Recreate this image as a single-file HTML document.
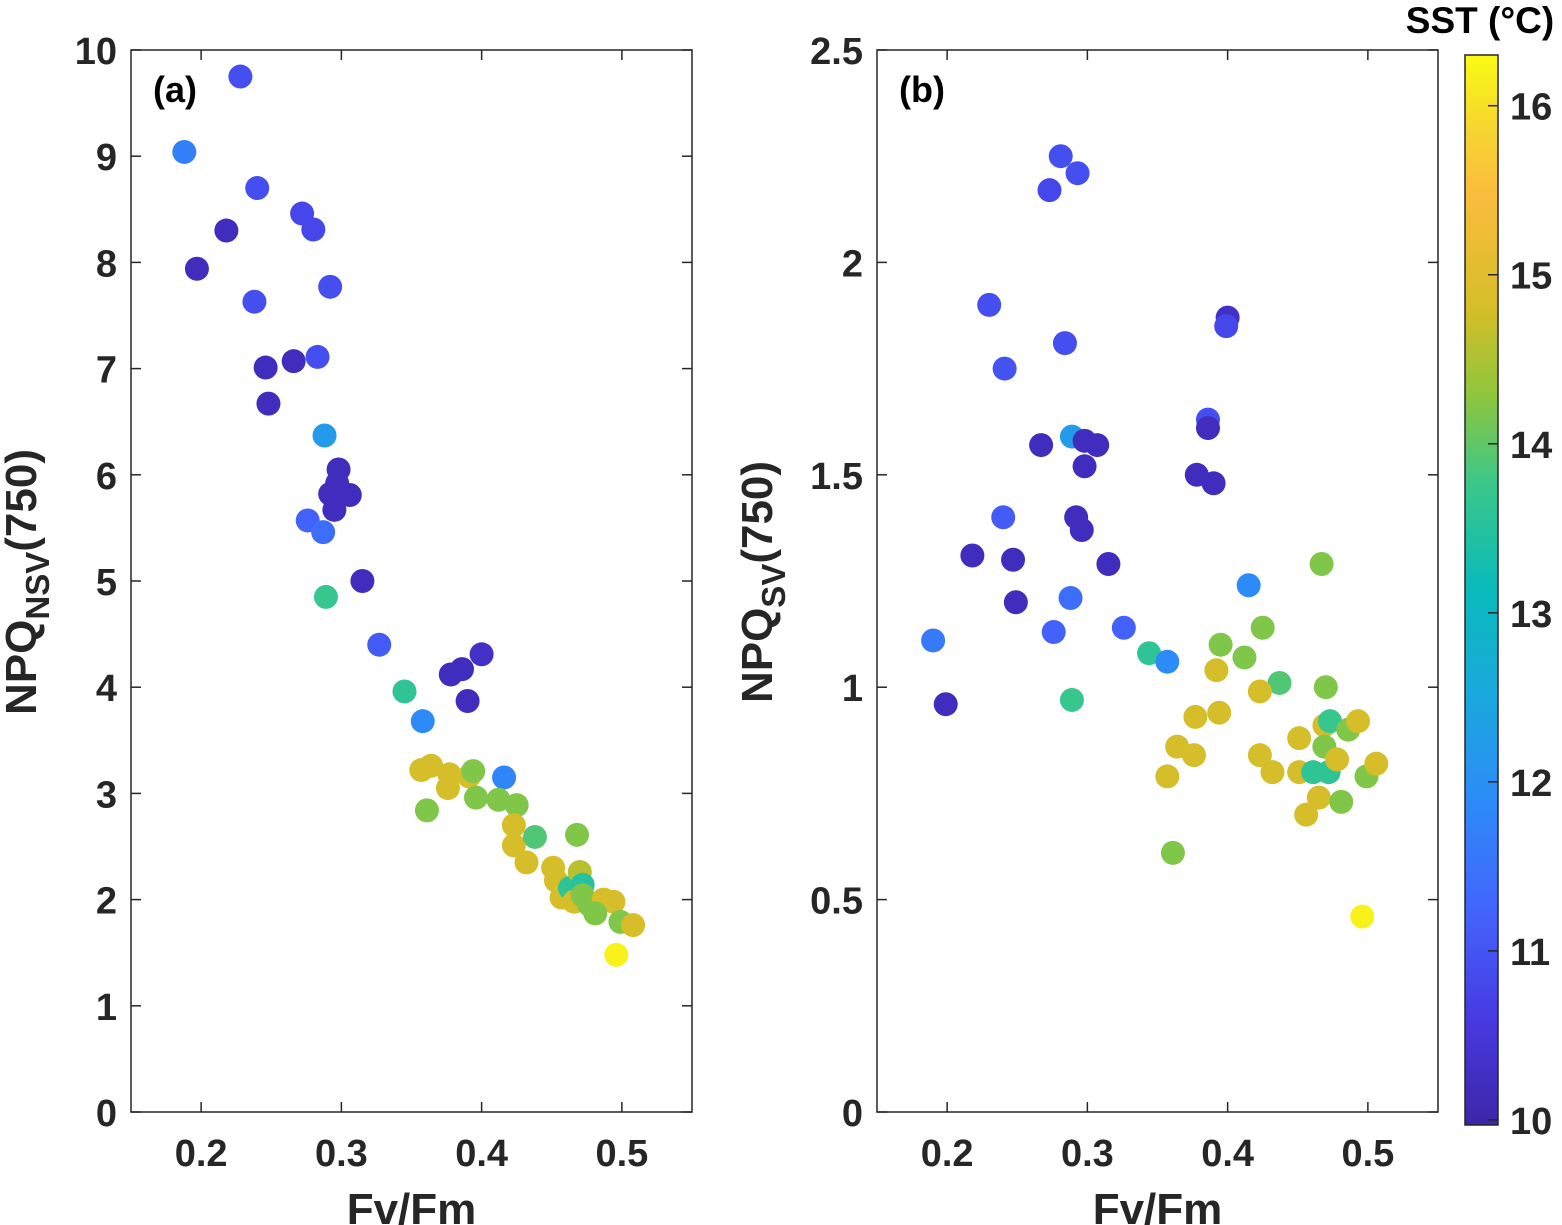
<!DOCTYPE html>
<html><head><meta charset="utf-8"><style>
html,body{margin:0;padding:0;background:#fff;}
svg{display:block;font-family:"Liberation Sans",Arial,sans-serif;font-weight:bold;}
</style></head><body>
<svg id="fig" width="1562" height="1225" viewBox="0 0 1562 1225" xmlns="http://www.w3.org/2000/svg"></svg>
<script>
// Panel (a) data
const aFv = [0.228,0.188,0.240,0.218,0.272,0.280,0.197,0.238,0.292,0.246,0.266,0.283,0.248,0.288,0.298,0.297,0.292,0.306,0.295,0.276,0.287,0.315,0.289,0.327,0.345,0.378,0.386,0.400,0.390,0.358,0.357,0.364,0.377,0.376,0.391,0.394,0.396,0.361,0.416,0.412,0.425,0.423,0.423,0.432,0.438,0.468,0.451,0.453,0.457,0.463,0.470,0.472,0.466,0.472,0.477,0.487,0.494,0.481,0.499,0.508,0.496];
const aNPQ = [9.75,9.04,8.70,8.30,8.46,8.31,7.94,7.63,7.77,7.01,7.07,7.11,6.67,6.37,6.05,5.92,5.82,5.81,5.67,5.57,5.46,5.00,4.85,4.40,3.96,4.12,4.17,4.31,3.87,3.68,3.22,3.26,3.18,3.05,3.16,3.21,2.96,2.84,3.15,2.94,2.89,2.70,2.51,2.35,2.59,2.61,2.30,2.18,2.02,2.11,2.26,2.14,1.98,2.04,1.95,2.00,1.98,1.87,1.79,1.76,1.48];
const aSST = [10.9,11.7,10.9,10.2,10.8,10.8,10.2,10.9,10.9,10.2,10.2,10.9,10.2,12.2,10.2,10.2,10.2,10.2,10.2,11.2,11.4,10.2,13.7,11.1,13.6,10.2,10.2,10.3,10.2,11.9,14.8,14.8,14.8,14.8,14.8,14.2,14.2,14.2,11.8,14.2,14.2,14.8,14.8,14.8,13.9,14.2,14.8,14.8,14.8,13.6,14.6,13.5,14.8,14.2,14.2,14.8,14.8,14.2,14.2,14.8,16.2];
// Panel (b) data
const bFv = [0.281,0.273,0.293,0.230,0.241,0.284,0.400,0.399,0.386,0.386,0.378,0.390,0.267,0.289,0.298,0.307,0.298,0.292,0.296,0.315,0.240,0.218,0.247,0.249,0.288,0.190,0.199,0.276,0.326,0.289,0.344,0.357,0.415,0.467,0.395,0.425,0.412,0.437,0.392,0.423,0.470,0.377,0.394,0.364,0.376,0.357,0.423,0.432,0.451,0.451,0.461,0.472,0.469,0.473,0.469,0.486,0.493,0.478,0.465,0.481,0.456,0.499,0.506,0.361,0.496];
const bNPQ = [2.25,2.17,2.21,1.90,1.75,1.81,1.87,1.85,1.63,1.61,1.50,1.48,1.57,1.59,1.58,1.57,1.52,1.40,1.37,1.29,1.40,1.31,1.30,1.20,1.21,1.11,0.96,1.13,1.14,0.97,1.08,1.06,1.24,1.29,1.10,1.14,1.07,1.01,1.04,0.99,1.00,0.93,0.94,0.86,0.84,0.79,0.84,0.80,0.88,0.80,0.80,0.80,0.91,0.92,0.86,0.90,0.92,0.83,0.74,0.73,0.70,0.79,0.82,0.61,0.46];
const bSST = [10.9,10.8,10.9,10.9,11.0,10.9,10.3,10.8,10.9,10.2,10.2,10.2,10.2,12.2,10.2,10.2,10.2,10.2,10.2,10.2,11.1,10.2,10.2,10.2,11.4,11.6,10.2,11.2,11.2,13.7,13.6,11.9,11.9,14.2,14.2,14.2,14.2,13.9,14.8,14.8,14.2,14.8,14.8,14.8,14.8,14.8,14.8,14.8,14.8,14.8,13.6,13.6,14.8,13.7,14.2,14.2,14.8,14.8,14.8,14.2,14.8,14.2,14.8,14.2,16.2];
const xTicks = [0.2,0.3,0.4,0.5];
const aYTicks = [0,1,2,3,4,5,6,7,8,9,10];
const bYTicks = [0,0.5,1,1.5,2,2.5];
const bYTickLabels = ["0","0.5","1","1.5","2","2.5"];
const cTicks = [10,11,12,13,14,15,16];

const NS="http://www.w3.org/2000/svg";
const svg=document.getElementById('fig');
function mk(tag,attrs,parent){const e=document.createElementNS(NS,tag);for(const k in attrs)e.setAttribute(k,attrs[k]);(parent||svg).appendChild(e);return e;}
const parulaStops=[[0,[62,38,168]],[0.1,[71,58,226]],[0.2,[67,100,252]],[0.3,[45,138,248]],[0.4,[27,168,222]],[0.5,[8,186,187]],[0.6,[60,199,137]],[0.68,[140,198,62]],[0.76,[212,190,40]],[0.87,[251,188,62]],[0.93,[246,212,48]],[1,[249,251,20]]];
const cMin=9.97,cMax=16.3;
function parula(v){let t=(v-cMin)/(cMax-cMin);t=Math.max(0,Math.min(1,t));for(let i=1;i<parulaStops.length;i++){if(t<=parulaStops[i][0]){const [t0,c0]=parulaStops[i-1],[t1,c1]=parulaStops[i];const f=(t-t0)/(t1-t0);return 'rgb('+c0.map((c,j)=>Math.round(c+(c1[j]-c)*f)).join(',')+')';}}return 'rgb(249,251,20)';}

function panel(opt){
  const {L,R,T,B,ymax,xs,ys,cs,yt,ytl,name,label}=opt;
  const g=mk('g',{});
  
  
  const sx=v=>L+(v-0.15)/(0.55-0.15)*(R-L);
  const sy=v=>B-(v/ymax)*(B-T);
  for(let i=0;i<xs.length;i++){
    const c=mk('circle',{cx:sx(xs[i]),cy:sy(ys[i]),r:12,fill:parula(cs[i])},g);
    
    
  }
  const box=mk('rect',{x:L,y:T,width:R-L,height:B-T,fill:'none',stroke:'#262626','stroke-width':1.5},g);
  
  
  xTicks.forEach(v=>{const x=sx(v);
    mk('line',{x1:x,y1:B,x2:x,y2:B-10,stroke:'#262626','stroke-width':1.5},g);
    mk('line',{x1:x,y1:T,x2:x,y2:T+10,stroke:'#262626','stroke-width':1.5},g);
    const t=mk('text',{x:x,y:B+54,'text-anchor':'middle','font-size':38,fill:'#262626'},g);t.textContent=String(v);
    
    });
  yt.forEach((v,i)=>{const y=sy(v);
    mk('line',{x1:L,y1:y,x2:L+10,y2:y,stroke:'#262626','stroke-width':1.5},g);
    mk('line',{x1:R,y1:y,x2:R-10,y2:y,stroke:'#262626','stroke-width':1.5},g);
    const t=mk('text',{x:L-14,y:y+14,'text-anchor':'end','font-size':38,fill:'#262626'},g);t.textContent=ytl[i];
    
    });
  const xl=mk('text',{x:(L+R)/2,y:1224,'text-anchor':'middle','font-size':44,fill:'#262626'},g);xl.textContent='Fv/Fm';
  
  
  const pl=mk('text',{x:L+22,y:T+52,'font-size':36,fill:'#000'},g);pl.textContent=label;
  
  
  return g;
}
panel({L:131,R:692,T:50,B:1112,ymax:10,xs:aFv,ys:aNPQ,cs:aSST,yt:aYTicks,ytl:aYTicks.map(String),name:'panel-a',label:'(a)'});
panel({L:877,R:1438,T:50,B:1112,ymax:2.5,xs:bFv,ys:bNPQ,cs:bSST,yt:bYTicks,ytl:bYTickLabels,name:'panel-b',label:'(b)'});

function ytitle(x,y,sub,name){
  const t=mk('text',{transform:`translate(${x},${y}) rotate(-90)`,'text-anchor':'middle','font-size':44,fill:'#262626'});
  
  
  const s1=mk('tspan',{},t);s1.textContent='NPQ';
  const s2=mk('tspan',{dy:13,'font-size':33},t);s2.textContent=sub;
  const s3=mk('tspan',{dy:-13},t);s3.textContent='(750)';
}
ytitle(36,582,'NSV','y-axis-title-a');
ytitle(772,582,'SV','y-axis-title-b');

const cbL=1465,cbR=1498,cbT=55,cbB=1125;
const defs=mk('defs',{});
const lg=mk('linearGradient',{id:'pg',x1:0,y1:1,x2:0,y2:0},defs);
parulaStops.forEach(s=>mk('stop',{offset:s[0],'stop-color':'rgb('+s[1].join(',')+')'},lg));
const cb=mk('rect',{x:cbL,y:cbT,width:cbR-cbL,height:cbB-cbT,fill:'url(#pg)',stroke:'#262626','stroke-width':1.5});


const cy=v=>cbB-(v-cMin)/(cMax-cMin)*(cbB-cbT);
cTicks.forEach(v=>{const y=cy(v);
  mk('line',{x1:cbR,y1:y,x2:cbR-10,y2:y,stroke:'#262626','stroke-width':1.5});
  const t=mk('text',{x:1510,y:y+14,'font-size':38,fill:'#262626'});t.textContent=String(v);
  
  });
const ct=mk('text',{x:1480,y:33,'text-anchor':'middle','font-size':37,fill:'#000'});ct.textContent='SST (°C)';


</script>
</body></html>
